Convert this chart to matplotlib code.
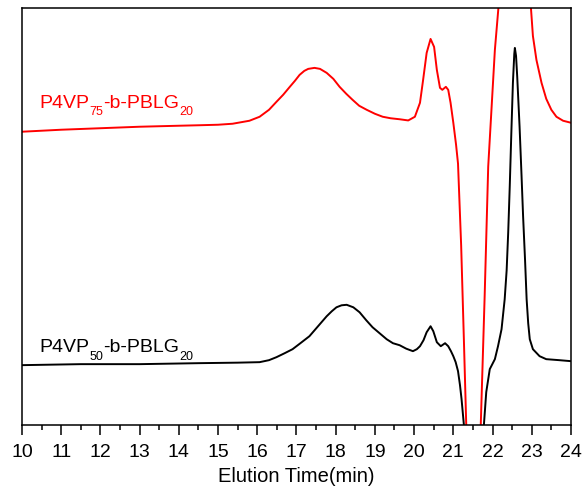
import matplotlib.pyplot as plt
from matplotlib.ticker import MultipleLocator
from matplotlib.transforms import offset_copy

plt.rcParams['font.family'] = ['Liberation Sans', 'DejaVu Sans']

# red trace: P4VP75-b-PBLG20 (signal in arbitrary units)
t_red = [10.0, 11.0, 12.0, 13.0, 14.0, 14.53, 15.0, 15.37, 15.8, 16.06,
         16.3, 16.49, 16.66, 16.83, 16.96, 17.08, 17.2, 17.3, 17.46, 17.6,
         17.77, 17.94, 18.1, 18.27, 18.43, 18.6, 18.79, 19.0, 19.2, 19.4,
         19.63, 19.85, 20.02, 20.15, 20.23, 20.32, 20.42, 20.51, 20.58, 20.66,
         20.72, 20.81, 20.87, 20.93, 21.0, 21.07, 21.12, 21.2, 21.27, 21.33,
         21.4, 21.5, 21.63, 21.7, 21.8, 21.89, 22.06, 22.15, 22.3, 22.6,
         22.85, 22.98, 23.03, 23.12, 23.25, 23.37, 23.5, 23.63, 23.8, 24.0]
s_red = [294, 296, 297.5, 299, 300, 300.5, 301, 302, 305, 309,
         316, 324, 331, 339, 345, 351, 355, 357, 358, 357,
         353, 347, 339, 332, 326, 320, 316, 312, 309, 307.5,
         306.5, 305.3, 309, 323, 346, 373, 387, 379, 356, 338,
         336, 339, 336, 323, 303, 281, 262, 180, 85, 0,
         -90, -150, -90, 0, 130, 259, 376, 418, 520, 600,
         520, 418, 390, 366, 343, 327, 316, 309, 305, 303]

# black trace: P4VP50-b-PBLG20
t_blk = [10.0, 11.5, 13.0, 14.53, 15.5, 16.06, 16.3, 16.49, 16.7, 16.9,
         17.1, 17.33, 17.55, 17.77, 17.9, 18.02, 18.15, 18.28, 18.45, 18.61,
         18.78, 18.94, 19.12, 19.3, 19.46, 19.63, 19.8, 19.97, 20.07, 20.15,
         20.24, 20.32, 20.42, 20.49, 20.58, 20.68, 20.79, 20.87, 20.94, 21.0,
         21.06, 21.12, 21.17, 21.21, 21.27, 21.35, 21.5, 21.65, 21.72, 21.78,
         21.84, 21.93, 22.06, 22.14, 22.23, 22.31, 22.36, 22.4, 22.44, 22.48,
         22.52, 22.555, 22.57, 22.6, 22.63, 22.69, 22.74, 22.78, 22.83, 22.87,
         22.91, 22.95, 23.03, 23.2, 23.37, 23.7, 24.0]
s_blk = [60, 61, 61, 62, 62.5, 63, 65, 68, 72, 76,
         82, 89, 99, 109, 114, 118, 120, 120.5, 118, 113,
         105, 98, 92, 86, 82, 80, 76.5, 74, 76, 79,
         85, 93, 99, 94, 83, 79, 82, 79, 74, 69,
         63, 54, 40, 26, 0, -50, -80, -50, -33, 0,
         33, 56, 66, 79, 96, 126, 155, 193, 240, 293,
         343, 372, 378, 370, 349, 299, 250, 209, 165, 126,
         102, 86, 76, 69, 66, 65, 64]

# labels as (text, is_subscript) pieces
label_red = [('P4VP', False), ('75', True), ('-b-PBLG', False), ('20', True)]
label_blk = [('P4VP', False), ('50', True), ('-b-PBLG', False), ('20', True)]

fig = plt.figure(figsize=(5.82, 4.86), dpi=100)
ax = fig.add_axes([0.0378, 0.1255, 0.9432, 0.858])

ax.plot(t_red, s_red, color='#ff0000', lw=1.4)
ax.plot(t_blk, s_blk, color='black', lw=1.4)


def draw_label(x, y, pieces, color):
    renderer = fig.canvas.get_renderer()
    dx = 0
    for s, sub in pieces:
        tr = offset_copy(ax.transData, fig=fig, x=dx,
                         y=-5.5 if sub else 0, units='points')
        t = ax.text(x, y, s, transform=tr, color=color, va='baseline',
                    fontsize=9 if sub else 14)
        dx += t.get_window_extent(renderer).width * 72 / fig.dpi


draw_label(10.45, 318, label_red, '#ff0000')
draw_label(10.45, 73, label_blk, 'black')

ax.set_xlim(10, 24)
ax.set_ylim(0, 418)
ax.set_yticks([])
ax.xaxis.set_major_locator(MultipleLocator(1))
ax.xaxis.set_minor_locator(MultipleLocator(0.5))
ax.tick_params(axis='x', which='major', direction='out', length=7, width=1.1,
               labelsize=14, pad=7)
ax.tick_params(axis='x', which='minor', direction='out', length=3.5, width=1.1)
for sp in ax.spines.values():
    sp.set_linewidth(1.1)
ax.set_xlabel('Elution Time(min)', fontsize=14.5, labelpad=4)

fig.savefig('out.png', dpi=100)
